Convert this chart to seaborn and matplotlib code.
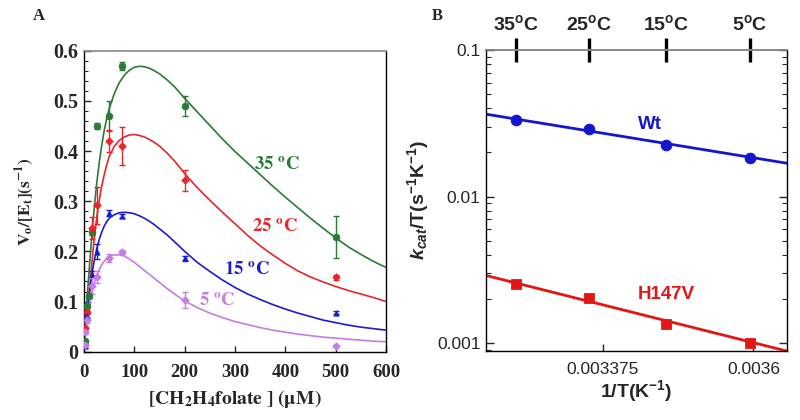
import numpy as np
import pandas as pd
import matplotlib
matplotlib.use("Agg")
import matplotlib.pyplot as plt
import seaborn as sns
from matplotlib.ticker import FixedLocator, FixedFormatter, MultipleLocator, LogLocator, NullFormatter

sns.set_style("ticks")
plt.rcParams['font.family'] = ['Liberation Serif', 'DejaVu Sans']
plt.rcParams['mathtext.fontset'] = 'custom'
plt.rcParams['mathtext.rm'] = 'Liberation Sans'
plt.rcParams['mathtext.it'] = 'Liberation Sans:italic'
plt.rcParams['mathtext.bf'] = 'Liberation Sans:bold'
plt.rcParams['mathtext.bfit'] = 'Liberation Sans:bold:italic'

# ---------------- Panel A data ----------------
temps_A = ["35", "25", "15", "5"]
colors_A = ["#2a7a35", "#e8252a", "#1c1ccf", "#c77ce0"]
markers_A = ["o", "D", "^", "D"]

green_S = [1, 5, 10, 15, 25, 50, 75, 200, 500]
green_v = [0.021, 0.091, 0.112, 0.238, 0.449, 0.470, 0.569, 0.490, 0.229]
green_err = [0.003, 0.004, 0.004, 0.006, 0.006, 0.030, 0.008, 0.020, 0.042]

red_S = [2.5, 5, 15, 25, 50, 75, 200, 500]
red_v = [0.047, 0.080, 0.246, 0.292, 0.420, 0.410, 0.342, 0.148]
red_err = [0.004, 0.004, 0.022, 0.037, 0.022, 0.038, 0.021, 0.005]

blue_S = [1, 5, 15, 25, 50, 75, 200, 500]
blue_v = [0.012, 0.071, 0.154, 0.199, 0.276, 0.271, 0.186, 0.078]
blue_err = [0.004, 0.004, 0.006, 0.015, 0.006, 0.004, 0.005, 0.003]

purple_S = [1, 2.5, 5, 15, 25, 50, 75, 200, 500]
purple_v = [0.013, 0.040, 0.063, 0.131, 0.149, 0.186, 0.199, 0.103, 0.011]
purple_err = [0.003, 0.004, 0.006, 0.015, 0.012, 0.008, 0.004, 0.016, 0.002]

# fitted curves
curve_S = [0, 2, 5, 10, 15, 20, 25, 30, 35, 40, 45, 50, 60, 70, 80, 90, 100,
           110, 120, 130, 140, 150, 165, 180, 200, 225, 250, 275, 300, 325,
           350, 375, 400, 425, 450, 475, 500, 525, 550, 575, 600]
green_curve = [0, 0.040, 0.090, 0.160, 0.225, 0.283, 0.333, 0.375, 0.410, 0.440,
               0.464, 0.484, 0.514, 0.536, 0.551, 0.561, 0.567, 0.569, 0.568,
               0.565, 0.560, 0.554, 0.542, 0.528, 0.505, 0.478, 0.451, 0.424,
               0.399, 0.376, 0.353, 0.330, 0.308, 0.287, 0.266, 0.246, 0.227,
               0.209, 0.194, 0.180, 0.168]
red_curve = [0, 0.024, 0.060, 0.115, 0.170, 0.222, 0.265, 0.300, 0.329, 0.352,
             0.372, 0.389, 0.409, 0.421, 0.428, 0.432, 0.433, 0.431, 0.428,
             0.423, 0.417, 0.410, 0.396, 0.380, 0.355, 0.327, 0.302, 0.278,
             0.255, 0.232, 0.211, 0.193, 0.176, 0.161, 0.149, 0.139, 0.130,
             0.122, 0.115, 0.108, 0.100]
blue_curve = [0, 0.025, 0.063, 0.110, 0.150, 0.180, 0.204, 0.223, 0.238, 0.250,
              0.259, 0.266, 0.273, 0.277, 0.278, 0.277, 0.275, 0.271, 0.266,
              0.260, 0.253, 0.245, 0.233, 0.219, 0.200, 0.178, 0.160, 0.143,
              0.128, 0.115, 0.104, 0.094, 0.085, 0.077, 0.070, 0.063, 0.058,
              0.053, 0.049, 0.046, 0.043]
purple_curve = [0, 0.022, 0.053, 0.090, 0.117, 0.136, 0.151, 0.163, 0.173, 0.180,
                0.186, 0.190, 0.193, 0.193, 0.191, 0.185, 0.178, 0.170, 0.162,
                0.154, 0.146, 0.138, 0.126, 0.115, 0.101, 0.088, 0.077, 0.068,
                0.060, 0.054, 0.048, 0.043, 0.039, 0.035, 0.032, 0.029, 0.027,
                0.025, 0.023, 0.021, 0.020]

label_pos_S = [383, 380, 323, 264]
label_pos_v = [0.372, 0.249, 0.163, 0.100]

# ---------------- Panel B data ----------------
temp_labels_B = ["35", "25", "15", "5"]
invT = [0.003245, 0.003354, 0.003470, 0.003595]
wt_kcatT = [0.0334, 0.0290, 0.0226, 0.0184]
h147v_kcatT = [0.00252, 0.00202, 0.00136, 0.00101]
line_x = [0.0032, 0.00365]
wt_line = [0.0365, 0.0169]
h147v_line = [0.00290, 0.000885]

fig = plt.figure(figsize=(8, 4.2), dpi=100)
axA = fig.add_axes([0.105, 0.1626, 0.3775, 0.7167])
axB = fig.add_axes([0.6075, 0.165, 0.376, 0.716])

# ---------------- Panel A ----------------
series = [(green_S, green_v, green_err, green_curve),
          (red_S, red_v, red_err, red_curve),
          (blue_S, blue_v, blue_err, blue_curve),
          (purple_S, purple_v, purple_err, purple_curve)]
for i, (S, v, e, cv) in enumerate(series):
    c = colors_A[i]
    sns.lineplot(x=curve_S, y=cv, ax=axA, color=c, lw=1.2, sort=False,
                 estimator=None, zorder=2)
    axA.errorbar(S, v, yerr=e, fmt='none', ecolor=c, elinewidth=1.0,
                 capsize=2.5, capthick=1.0, zorder=3)
    ms = 24 if markers_A[i] == "o" else 15
    sns.scatterplot(x=S, y=v, ax=axA, color=c, marker=markers_A[i], s=ms,
                    edgecolor=c, linewidth=0.5, zorder=4, legend=False)
    axA.text(label_pos_S[i], label_pos_v[i], r"$\mathbf{%s\ ^{o}C}$" % temps_A[i],
             color=c, fontsize=13.5, ha='center', va='center',
             math_fontfamily='stix')

axA.set_xlim(0, 600)
axA.set_ylim(0, 0.6)
axA.xaxis.set_major_locator(MultipleLocator(100))
axA.yaxis.set_minor_locator(MultipleLocator(0.02))
axA.set_yticks([0, 0.1, 0.2, 0.3, 0.4, 0.5, 0.6])
axA.set_yticklabels(["0", "0.1", "0.2", "0.3", "0.4", "0.5", "0.6"])
axA.tick_params(axis='y', which='major', direction='in', length=5, width=1,
                right=False, labelsize=14.5, pad=4)
axA.tick_params(axis='y', which='minor', direction='in', length=3, width=0.8, right=False)
axA.tick_params(axis='x', which='major', direction='in', length=4, width=1,
                top=False, labelsize=13.5, pad=9)
for lab in axA.get_xticklabels() + axA.get_yticklabels():
    lab.set_fontweight('bold')
    lab.set_family('Liberation Serif')
for sp in ['left', 'bottom', 'right']:
    axA.spines[sp].set_color('black')
    axA.spines[sp].set_linewidth(1.0)
axA.spines['top'].set_color('#888888')
axA.spines['top'].set_linewidth(1.2)
axA.set_xlabel(r"$\mathbf{[CH_2H_4folate\ ]\ (\mu M)}$", fontsize=14,
               math_fontfamily='stix', labelpad=5)
axA.set_ylabel(r"$\mathbf{V_o/[E_t](s^{-1})}$", fontsize=12.5,
               math_fontfamily='stix', labelpad=12)
fig.text(0.048, 0.962, "A", fontsize=12, fontweight='bold',
         family='Liberation Serif', ha='center', va='center')

# ---------------- Panel B ----------------
sns.lineplot(x=line_x, y=wt_line, ax=axB, color="#1515d0", lw=2.0,
             estimator=None, sort=False, zorder=2)
sns.lineplot(x=line_x, y=h147v_line, ax=axB, color="#e31515", lw=2.0,
             estimator=None, sort=False, zorder=2)
sns.scatterplot(x=invT, y=wt_kcatT, ax=axB, color="#1515d0", marker='o', s=60,
                edgecolor="#1515d0", zorder=3, legend=False)
sns.scatterplot(x=invT, y=h147v_kcatT, ax=axB, color="#e31515", marker='s', s=52,
                edgecolor="#e31515", zorder=3, legend=False)
axB.set_yscale('log')
axB.set_xlim(0.0032, 0.00365)
axB.set_ylim(0.00089, 0.1)
axB.yaxis.set_major_locator(FixedLocator([0.001, 0.01, 0.1]))
axB.yaxis.set_major_formatter(FixedFormatter(["0.001", "0.01", "0.1"]))
axB.yaxis.set_minor_locator(LogLocator(base=10, subs=np.arange(2, 10)))
axB.yaxis.set_minor_formatter(NullFormatter())
axB.xaxis.set_major_locator(FixedLocator([0.003375, 0.0036]))
axB.xaxis.set_major_formatter(FixedFormatter(["0.003375", "0.0036"]))
axB.tick_params(axis='y', which='major', direction='in', length=6, width=1,
                left=True, right=True, labelsize=12.5, pad=4)
axB.tick_params(axis='y', which='minor', direction='in', length=3.5, width=0.8,
                left=True, right=True)
axB.tick_params(axis='x', which='major', direction='in', length=5, width=1,
                top=False, labelsize=12.5, pad=8)
for lab in axB.get_xticklabels() + axB.get_yticklabels():
    lab.set_family('Liberation Sans')
for sp in ['left', 'bottom', 'right']:
    axB.spines[sp].set_color('black')
    axB.spines[sp].set_linewidth(1.0)
axB.spines['top'].set_color('#888888')
axB.spines['top'].set_linewidth(1.2)

sec = axB.secondary_xaxis('top')
sec.set_xticks(invT)
sec.set_xticklabels([r"$\mathbf{%s^{o}C}$" % t for t in temp_labels_B],
                    math_fontfamily='custom', fontsize=14)
sec.tick_params(axis='x', direction='inout', length=17, width=2.4, color='black', pad=3)
sec.spines['top'].set_color('#888888')
sec.spines['top'].set_linewidth(1.2)

axB.set_xlabel(r"$\mathbf{1/T(K^{-1})}$", fontsize=14,
               math_fontfamily='custom', labelpad=1)
axB.set_ylabel(r"$\mathbfit{k}_{\mathbfit{cat}}\mathbf{/T(s^{-1}K^{-1})}$", fontsize=14,
               math_fontfamily='custom', labelpad=4)
axB.text(0.003445, 0.0309, "Wt", color="#1515d0", fontsize=13.5, fontweight='bold',
         family='Liberation Sans', ha='center', va='center')
axB.text(0.00347, 0.00215, "H147V", color="#e31515", fontsize=13.5, fontweight='bold',
         family='Liberation Sans', ha='center', va='center')
fig.text(0.546, 0.962, "B", fontsize=12, fontweight='bold',
         family='Liberation Serif', ha='center', va='center')

fig.savefig("out.png", dpi=100)
